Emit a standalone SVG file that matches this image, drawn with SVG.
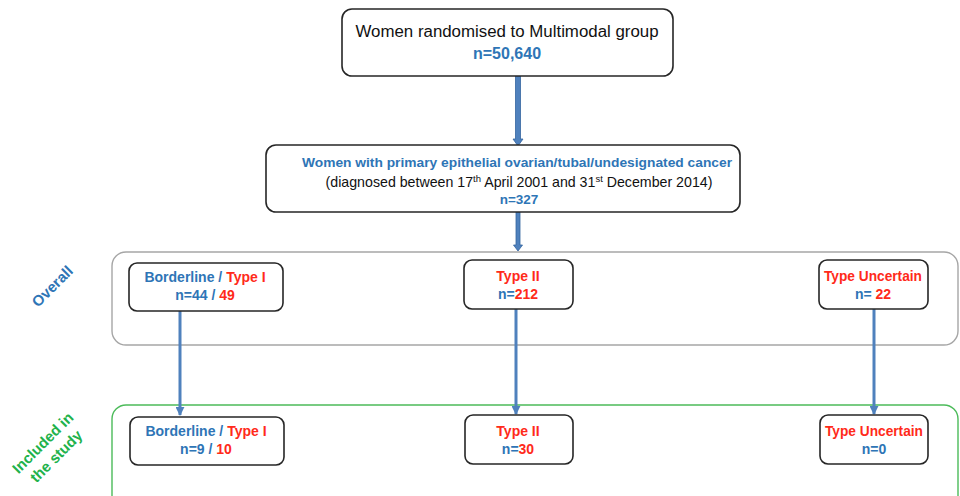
<svg xmlns="http://www.w3.org/2000/svg" width="960" height="496" viewBox="0 0 960 496">
<style>
text{font-family:"Liberation Sans","DejaVu Sans",sans-serif;text-anchor:middle}
.box{fill:#fff;stroke:#262626;stroke-width:1.6}
.b{fill:#2e75b6;font-weight:bold}
.r{fill:#ff2a1a;font-weight:bold}
.k{fill:#111}
.conn{stroke:#4f81bd;stroke-width:3;fill:none}
.big{fill:#4f81bd;stroke:#3465a0;stroke-width:0.8}
</style>
<defs>
<marker id="ah" viewBox="0 0 10 10" refX="9" refY="5" markerWidth="3" markerHeight="3" orient="auto">
<path d="M0,0 L10,5 L0,10 z" fill="#4f81bd"/>
</marker>
</defs>
<g id="group-overall">
<rect x="112" y="252" width="846" height="93" rx="14" fill="none" stroke="#a6a6a6" stroke-width="1.4"/>
<text transform="translate(56,290) rotate(-45)" class="b" font-size="15">Overall</text>
</g>
<g id="group-included">
<rect x="112" y="405" width="846" height="115" rx="14" fill="none" stroke="#4cbb5a" stroke-width="1.4"/>
<g transform="translate(50,450) rotate(-45)" font-size="15" font-weight="bold">
<text x="0" y="-5" fill="#21b24b">Included in</text>
<text x="0" y="14" fill="#21b24b">the study</text>
</g>
</g>
<g id="connectors">
<path class="big" d="M515.5,76 L520.5,76 L520.5,139 L523,139 L518,146 L513,139 L515.5,139 Z"/>
<path class="big" d="M516,212 L520,212 L520,245 L522.5,245 L518,251 L513.5,245 L516,245 Z"/>
<line class="conn" x1="180" y1="311" x2="180" y2="415" marker-end="url(#ah)"/>
<line class="conn" x1="516" y1="309" x2="516" y2="414" marker-end="url(#ah)"/>
<line class="conn" x1="874" y1="309" x2="874" y2="414" marker-end="url(#ah)"/>
</g>
<g id="n-top">
<rect class="box" x="342" y="9" width="331" height="67" rx="10"/>
<text x="507" y="37" class="k" font-size="16" textLength="303" lengthAdjust="spacingAndGlyphs">Women randomised to Multimodal group</text>
<text x="507" y="59" class="b" font-size="16">n=50,640</text>
</g>
<g id="n-cancer">
<rect class="box" x="266" y="145" width="474" height="67" rx="10"/>
<text x="517" y="167" class="b" font-size="13" textLength="430" lengthAdjust="spacingAndGlyphs">Women with primary epithelial ovarian/tubal/undesignated cancer</text>
<text x="519" y="187" class="k" font-size="14.2">(diagnosed between 17<tspan font-size="9.5" dy="-5">th</tspan><tspan dy="5"> April 2001 and 31</tspan><tspan font-size="9.5" dy="-5">st</tspan><tspan dy="5"> December 2014)</tspan></text>
<text x="519" y="204" class="b" font-size="13.5">n=327</text>
</g>
<g id="n-border-overall">
<rect class="box" x="129" y="263" width="154" height="48" rx="8"/>
<text x="205" y="282" font-size="14"><tspan class="b">Borderline / </tspan><tspan class="r">Type I</tspan></text>
<text x="205" y="300" font-size="14"><tspan class="b">n=44 / </tspan><tspan class="r">49</tspan></text>
</g>
<g id="n-type2-overall">
<rect class="box" x="464" y="260" width="109" height="49" rx="8"/>
<text x="518" y="281" class="r" font-size="14">Type II</text>
<text x="518" y="299" font-size="14"><tspan class="b">n=</tspan><tspan class="r">212</tspan></text>
</g>
<g id="n-unc-overall">
<rect class="box" x="819" y="260" width="109" height="49" rx="8"/>
<text x="873" y="281" class="r" font-size="14" textLength="98" lengthAdjust="spacingAndGlyphs">Type Uncertain</text>
<text x="873" y="299" font-size="14"><tspan class="b">n= </tspan><tspan class="r">22</tspan></text>
</g>
<g id="n-border-incl">
<rect class="box" x="130" y="417" width="154" height="48" rx="8"/>
<text x="206" y="436" font-size="14"><tspan class="b">Borderline / </tspan><tspan class="r">Type I</tspan></text>
<text x="206" y="454" font-size="14"><tspan class="b">n=9 / </tspan><tspan class="r">10</tspan></text>
</g>
<g id="n-type2-incl">
<rect class="box" x="465" y="415" width="108" height="49" rx="8"/>
<text x="518" y="436" class="r" font-size="14">Type II</text>
<text x="518" y="454" font-size="14"><tspan class="b">n=</tspan><tspan class="r">30</tspan></text>
</g>
<g id="n-unc-incl">
<rect class="box" x="820" y="415" width="108" height="49" rx="8"/>
<text x="874" y="436" class="r" font-size="14" textLength="98" lengthAdjust="spacingAndGlyphs">Type Uncertain</text>
<text x="874" y="454" class="b" font-size="14">n=0</text>
</g>
</svg>
